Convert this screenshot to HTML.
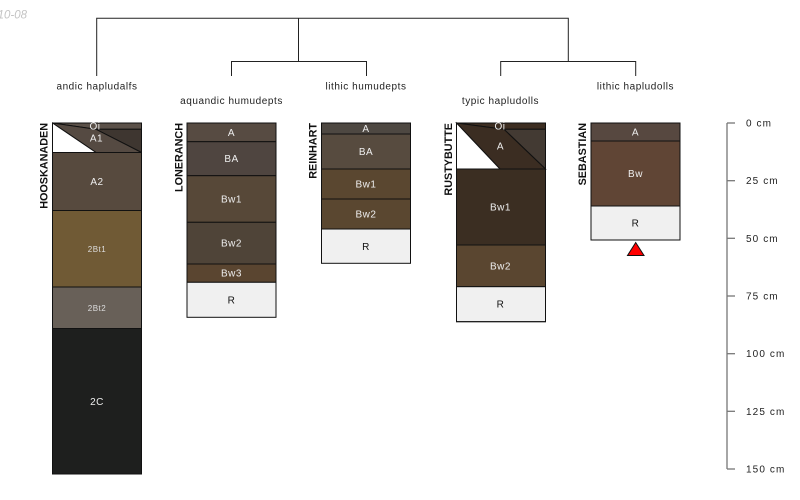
<!DOCTYPE html>
<html><head><meta charset="utf-8"><style>
html,body{margin:0;padding:0;background:#fff;}
svg{display:block;}
text{font-family:"Liberation Sans",sans-serif;}
</style></head><body>
<svg width="800" height="500" viewBox="0 0 800 500" xmlns="http://www.w3.org/2000/svg">
<rect width="800" height="500" fill="#fff"/>
<!-- date -->
<text x="27" y="18.5" font-size="11.5" font-style="italic" fill="#c4c4c4" text-anchor="end">2020-10-08</text>

<!-- dendrogram -->
<g stroke="#222" stroke-width="1" fill="none">
<path d="M96.7,76 V18.3 H568.3 V61.5"/>
<path d="M298.5,18.3 V61.5"/>
<path d="M231.5,76 V61.5 H366.5 V76"/>
<path d="M500.7,76 V61.5 H635.7 V76"/>
</g>

<!-- taxon labels -->
<g font-size="10" fill="#222" text-anchor="middle" letter-spacing="0.55">
<text x="97" y="89.5">andic hapludalfs</text>
<text x="231.5" y="104">aquandic humudepts</text>
<text x="366" y="89.5">lithic humudepts</text>
<text x="500.5" y="104">typic hapludolls</text>
<text x="635.5" y="89.5">lithic hapludolls</text>
</g>

<!-- profile names -->
<g font-size="10.8" font-weight="bold" fill="#111" text-anchor="end">
<text transform="translate(47.5,123) rotate(-90)">HOOSKANADEN</text>
<text transform="translate(182.5,123) rotate(-90)">LONERANCH</text>
<text transform="translate(316.5,123) rotate(-90)">REINHART</text>
<text transform="translate(452,123) rotate(-90)">RUSTYBUTTE</text>
<text transform="translate(585.8,123) rotate(-90)">SEBASTIAN</text>
</g>

<!-- HOOSKANADEN -->
<g stroke="#111" stroke-width="1">
<polygon points="52.5,123 141.5,123 141.5,129.3 96,129.3" fill="#5b5149"/>
<polygon points="96,129.3 141.5,129.3 141.5,152.5" fill="#3e3630"/>
<polygon points="52.5,123 96,129.3 141.5,152.5 96,152.5" fill="#554a42"/>
<polygon points="52.5,123 52.5,152.5 96,152.5" fill="#fff"/>
<rect x="52.5" y="152.5" width="89" height="58" fill="#574a3e"/>
<rect x="52.5" y="210.5" width="89" height="76.5" fill="#705a35"/>
<rect x="52.5" y="287" width="89" height="41.5" fill="#686058"/>
<rect x="52.5" y="328.5" width="89" height="145.5" fill="#1e1f1e"/>
<rect x="52.5" y="123" width="89" height="351" fill="none"/>
</g>

<!-- LONERANCH -->
<g stroke="#111" stroke-width="1">
<rect x="187" y="123" width="89" height="18.7" fill="#574b42"/>
<rect x="187" y="141.7" width="89" height="34" fill="#4f4540"/>
<rect x="187" y="175.7" width="89" height="46.6" fill="#574838"/>
<rect x="187" y="222.3" width="89" height="41.7" fill="#4f4438"/>
<rect x="187" y="264" width="89" height="18.3" fill="#5a4530"/>
<rect x="187" y="282.3" width="89" height="35" fill="#f0f0f0"/>
</g>

<!-- REINHART -->
<g stroke="#111" stroke-width="1">
<rect x="321.5" y="123" width="89" height="11" fill="#4e4842"/>
<rect x="321.5" y="134" width="89" height="35" fill="#574b3f"/>
<rect x="321.5" y="169" width="89" height="30" fill="#5a4730"/>
<rect x="321.5" y="199" width="89" height="30" fill="#5a4730"/>
<rect x="321.5" y="229" width="89" height="34.3" fill="#f0f0f0"/>
</g>

<!-- RUSTYBUTTE -->
<g stroke="#111" stroke-width="1">
<polygon points="456.5,123 545.5,123 545.5,129.3 504,129.3" fill="#3d2e22"/>
<polygon points="504,129.3 545.5,129.3 545.5,169" fill="#433a33"/>
<polygon points="456.5,123 504,129.3 545.5,169 500,169" fill="#3b2d22"/>
<polygon points="456.5,123 456.5,169 500,169" fill="#fff"/>
<rect x="456.5" y="169" width="89" height="76" fill="#3b2e22"/>
<rect x="456.5" y="245" width="89" height="41.7" fill="#5a4630"/>
<rect x="456.5" y="286.7" width="89" height="35" fill="#f0f0f0"/>
<rect x="456.5" y="123" width="89" height="198.7" fill="none"/>
</g>

<!-- SEBASTIAN -->
<g stroke="#111" stroke-width="1">
<rect x="591" y="123" width="89" height="18" fill="#574840"/>
<rect x="591" y="141" width="89" height="65" fill="#604535"/>
<rect x="591" y="206" width="89" height="34" fill="#f0f0f0"/>
<polygon points="627.5,255.5 644,255.5 635.7,242.5" fill="#ff0000"/>
</g>

<!-- horizon labels -->
<g font-size="10" fill="#eee" text-anchor="middle" letter-spacing="0.5">
<text x="95" y="126" dy="0.35em">Oi</text>
<text x="96.5" y="138" dy="0.35em">A1</text>
<text x="97" y="181.5" dy="0.35em">A2</text>
<text x="97" y="249" dy="0.35em" font-size="8" fill="#ddd">2Bt1</text>
<text x="97" y="308" dy="0.35em" font-size="8" fill="#ddd">2Bt2</text>
<text x="97" y="401.5" dy="0.35em">2C</text>

<text x="231.5" y="132.5" dy="0.35em">A</text>
<text x="231.5" y="158.7" dy="0.35em">BA</text>
<text x="231.5" y="199" dy="0.35em">Bw1</text>
<text x="231.5" y="243" dy="0.35em">Bw2</text>
<text x="231.5" y="273" dy="0.35em">Bw3</text>
<text x="231.5" y="300" dy="0.35em" fill="#111">R</text>

<text x="366" y="128.5" dy="0.35em">A</text>
<text x="366" y="151.5" dy="0.35em">BA</text>
<text x="366" y="184" dy="0.35em">Bw1</text>
<text x="366" y="214" dy="0.35em">Bw2</text>
<text x="366" y="246.5" dy="0.35em" fill="#111">R</text>

<text x="500" y="126" dy="0.35em">Oi</text>
<text x="500.5" y="146" dy="0.35em">A</text>
<text x="500.5" y="207" dy="0.35em">Bw1</text>
<text x="500.5" y="266" dy="0.35em">Bw2</text>
<text x="500.5" y="304" dy="0.35em" fill="#111">R</text>

<text x="635.5" y="132" dy="0.35em">A</text>
<text x="635.5" y="173.5" dy="0.35em">Bw</text>
<text x="635.5" y="223" dy="0.35em" fill="#111">R</text>
</g>

<!-- depth scale -->
<g stroke="#777" stroke-width="1.3">
<line x1="727" y1="123" x2="727" y2="469"/>
<line x1="727" y1="123" x2="735" y2="123"/>
<line x1="727" y1="180.7" x2="735" y2="180.7"/>
<line x1="727" y1="238.3" x2="735" y2="238.3"/>
<line x1="727" y1="296" x2="735" y2="296"/>
<line x1="727" y1="353.7" x2="735" y2="353.7"/>
<line x1="727" y1="411.3" x2="735" y2="411.3"/>
<line x1="727" y1="469" x2="735" y2="469"/>
</g>
<g font-size="10" fill="#222" letter-spacing="1.1">
<text x="746" y="123" dy="0.35em">0 cm</text>
<text x="746" y="180.7" dy="0.35em">25 cm</text>
<text x="746" y="238.3" dy="0.35em">50 cm</text>
<text x="746" y="296" dy="0.35em">75 cm</text>
<text x="746" y="353.7" dy="0.35em">100 cm</text>
<text x="746" y="411.3" dy="0.35em">125 cm</text>
<text x="746" y="469" dy="0.35em">150 cm</text>
</g>
</svg>
</body></html>
